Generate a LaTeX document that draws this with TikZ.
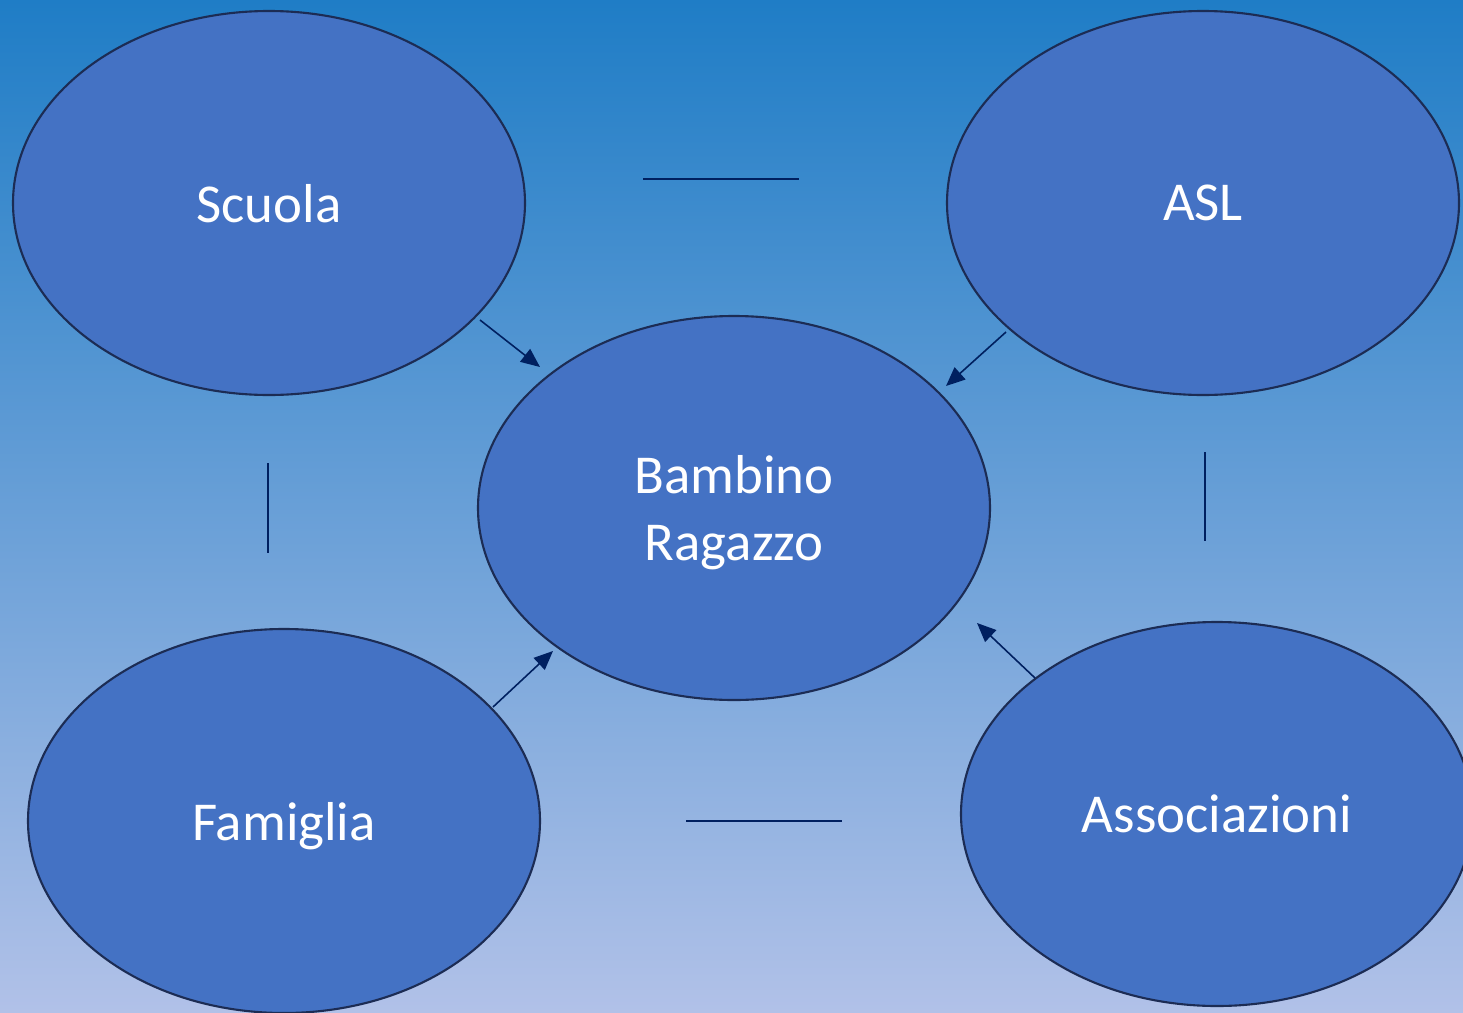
\documentclass[tikz,border=0pt]{standalone}
\usepackage{fontspec}
\setmainfont{Carlito}
\usetikzlibrary{arrows.meta, shapes.geometric}

\definecolor{bgtop}{RGB}{31,125,198}
\definecolor{bgbottom}{RGB}{177,193,232}
\definecolor{bubblefill}{RGB}{68,114,196}
\definecolor{bubbleline}{RGB}{28,44,84}
\definecolor{linknavy}{RGB}{0,32,96}

\tikzset{
    bubble/.style={ellipse, draw=bubbleline, line width=0.6pt, fill=bubblefill,
        minimum width=5.12cm, minimum height=3.84cm, text=white, text depth=0pt,
        font=\fontsize{15.6}{19}\selectfont, align=center},
    link/.style={draw=linknavy, line width=0.45pt},
    flow/.style={link, -{Triangle[length=5.4pt,width=4.6pt]}, linknavy}
}

\begin{document}
\begin{tikzpicture}[yscale=1, xscale=1]
        % \draw[help lines] (0,0) grid (15, 10);
        \clip (0,0) rectangle (14.63,10.12);
        \shade[top color=bgtop, bottom color=bgbottom] (0,0) rectangle (14.63,10.12);

        \node[bubble] (scuola) at (2.69, 8.09) {Scuola};
        \node[bubble] (asl) at (12.03, 8.09) {ASL};
        \node[bubble] (bambino) at (7.34, 5.04) {Bambino\\Ragazzo};
        \node[bubble] (famiglia) at (2.84, 1.91) {Famiglia};
        \node[bubble] (assoc) at (12.17, 1.98) {Associazioni};

        \coordinate (top-a) at (6.43, 8.33);
        \coordinate (top-b) at (7.99, 8.33);
        \coordinate (left-a) at (2.68, 5.49);
        \coordinate (left-b) at (2.68, 4.59);
        \coordinate (right-a) at (12.05, 5.60);
        \coordinate (right-b) at (12.05, 4.71);
        \coordinate (bot-a) at (6.86, 1.91);
        \coordinate (bot-b) at (8.42, 1.91);

        \draw[link] (top-a) -- (top-b);
        \draw[link] (left-a) -- (left-b);
        \draw[link] (right-a) -- (right-b);
        \draw[link] (bot-a) -- (bot-b);

        \coordinate (scuola-out) at (4.80, 6.92);
        \coordinate (scuola-in) at (5.40, 6.45);
        \coordinate (asl-out) at (10.06, 6.80);
        \coordinate (asl-in) at (9.46, 6.26);
        \coordinate (famiglia-out) at (4.93, 3.05);
        \coordinate (famiglia-in) at (5.53, 3.61);
        \coordinate (assoc-out) at (10.35, 3.34);
        \coordinate (assoc-in) at (9.77, 3.89);

        \draw[flow] (scuola-out) -- (scuola-in);
        \draw[flow] (asl-out) -- (asl-in);
        \draw[flow] (famiglia-out) -- (famiglia-in);
        \draw[flow] (assoc-out) -- (assoc-in);

\end{tikzpicture}
\end{document}
